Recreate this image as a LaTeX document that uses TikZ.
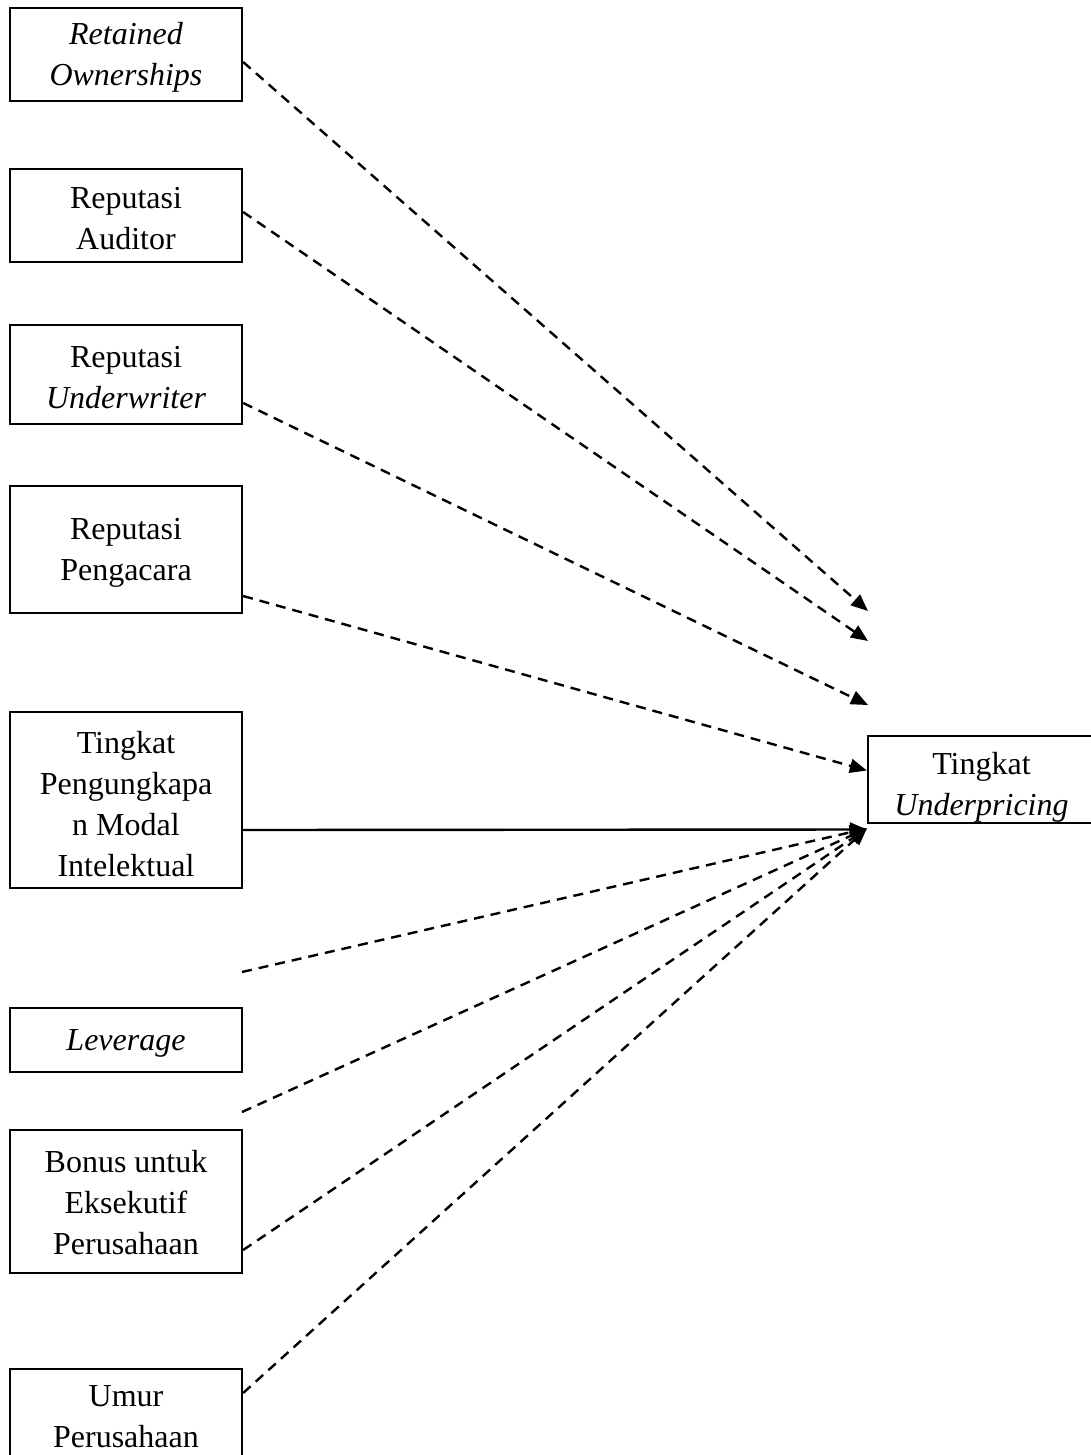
\documentclass[tikz,border=0pt]{standalone}
\usepackage{fontspec}
\setmainfont{Liberation Serif}
\usetikzlibrary{arrows.meta}
\begin{document}
\begin{tikzpicture}[x=1pt,y=-1pt,
  box/.style={draw,line width=2.3pt,rectangle,inner sep=0pt,minimum width=232pt},
  lbl/.style={align=center,inner sep=0pt,font=\fontsize{32}{41}\selectfont,yshift=-3pt},
  dsh/.style={line width=2.4pt,dash pattern=on 10pt off 7pt,-{Triangle[length=17pt,width=14pt]}},
  sol/.style={line width=2.4pt,-{Triangle[length=17pt,width=14pt]}}]
\useasboundingbox (0,0) rectangle (1090,1455);
\node[box,minimum height=93pt,label={[lbl]center:{\itshape Retained\\\itshape Ownerships}}] (b1) at (126,54.5) {};
\node[box,minimum height=93pt,label={[lbl]center:{Reputasi\\Auditor}}] (b2) at (126,215.5) {};
\node[box,minimum height=99pt,label={[lbl]center:{Reputasi\\\itshape Underwriter}}] (b3) at (126,374.5) {};
\node[box,minimum height=127pt,label={[lbl]center:{Reputasi\\Pengacara}}] (b4) at (126,549.5) {};
\node[box,minimum height=176pt,label={[lbl,yshift=-1pt]center:{Tingkat\\Pengungkapa\\n Modal\\Intelektual}}] (b5) at (126,800) {};
\node[box,minimum height=64pt,label={[lbl]center:{\itshape Leverage}}] (b6) at (126,1040) {};
\node[box,minimum height=143pt,label={[lbl,yshift=2pt]center:{Bonus untuk\\Eksekutif\\Perusahaan}}] (b7) at (126,1201.5) {};
\node[box,minimum height=100pt,anchor=north,label={[lbl,yshift=5pt]center:{Umur\\Perusahaan}}] (b8) at (126,1368) {};
\node[box,minimum width=227pt,minimum height=87pt,label={[lbl,yshift=-5pt]center:{Tingkat\\\itshape Underpricing}}] (t) at (981.5,779.5) {};
\coordinate (e1) at (868,611);
\coordinate (e2) at (868,641);
\coordinate (e3) at (868,705);
\coordinate (s6) at (242,972);
\coordinate (s7) at (242,1112);
\path (b8.north east) ++(0,25) coordinate (s9);
\draw[dsh] ([yshift=-7.5pt]b1.east) -- (e1);
\draw[dsh] ([yshift=3.5pt]b2.east) -- (e2);
\draw[dsh] ([yshift=-28.5pt]b3.east) -- (e3);
\draw[dsh] ([yshift=-46.5pt]b4.east) -- ([yshift=9pt]t.west);
\draw[sol] ([yshift=-30pt]b5.east) -- ([yshift=-50pt]t.west);
\draw[dsh] (s6) -- ([yshift=-49pt]t.west);
\draw[dsh] (s7) -- ([yshift=-49pt]t.west);
\draw[dsh] ([yshift=-48.5pt]b7.east) -- ([yshift=-49pt]t.west);
\draw[dsh] (s9) -- ([yshift=-49pt]t.west);
\end{tikzpicture}
\end{document}
